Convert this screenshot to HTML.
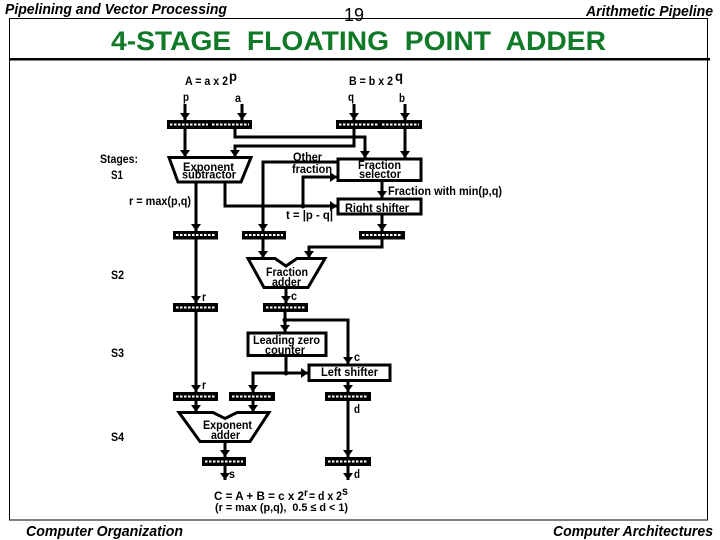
<!DOCTYPE html>
<html>
<head>
<meta charset="utf-8">
<style>
html,body{margin:0;padding:0;background:#fff;width:720px;height:540px;overflow:hidden}
svg{display:block}
text{font-family:"Liberation Sans",sans-serif;fill:#000;white-space:pre}
.l{font-size:12px;font-weight:bold}
.h{font-size:15px;font-weight:bold;font-style:italic}
.r{fill:#000}
.d{stroke:#fff;stroke-width:2;stroke-dasharray:2.5 1.5}
.w{fill:none;stroke:#000;stroke-width:3}
.b{fill:#fff;stroke:#000;stroke-width:3}
</style>
</head>
<body>
<svg width="720" height="540" viewBox="0 0 720 540" xmlns="http://www.w3.org/2000/svg">
<defs>
<marker id="a" markerUnits="userSpaceOnUse" markerWidth="9" markerHeight="10" refX="7" refY="5" orient="auto">
<polygon points="0,0 7,5 0,10" fill="#000"/>
</marker>
</defs>
<rect x="0" y="0" width="720" height="540" fill="#fff"/>

<!-- frame -->
<rect x="9.5" y="18.5" width="698" height="501.5" fill="none" stroke="#000" stroke-width="1"/>
<rect x="9" y="58" width="701" height="2.5" fill="#000"/>

<!-- header / footer -->
<text class="h" x="5" y="14" textLength="222" lengthAdjust="spacingAndGlyphs">Pipelining and Vector Processing</text>
<rect x="340" y="5" width="28" height="13" fill="#fff"/>
<text x="344" y="21" font-size="18" textLength="20" lengthAdjust="spacingAndGlyphs">19</text>
<text class="h" x="586" y="16" textLength="127" lengthAdjust="spacingAndGlyphs">Arithmetic Pipeline</text>
<text class="h" x="26" y="536" textLength="157" lengthAdjust="spacingAndGlyphs">Computer Organization</text>
<text class="h" x="553" y="536" textLength="160" lengthAdjust="spacingAndGlyphs">Computer Architectures</text>

<text x="111" y="50" font-size="26.5" font-weight="bold" style="fill:#107a28" textLength="495" lengthAdjust="spacingAndGlyphs">4-STAGE  FLOATING  POINT  ADDER</text>

<!-- wires -->
<g class="w">
<path d="M185 104V120" marker-end="url(#a)"/>
<path d="M242 104V120" marker-end="url(#a)"/>
<path d="M354 104V120" marker-end="url(#a)"/>
<path d="M405 104V120" marker-end="url(#a)"/>
<path d="M185 129V157" marker-end="url(#a)"/>
<path d="M235 129V137H365V158" marker-end="url(#a)"/>
<path d="M354 129V146H235V157" marker-end="url(#a)"/>
<path d="M405 129V158" marker-end="url(#a)"/>
<path d="M337 162H263V231" marker-end="url(#a)"/>
<path d="M196 182V231" marker-end="url(#a)"/>
<path d="M225 182V206H337" marker-end="url(#a)"/>
<path d="M303 206V177H337" marker-end="url(#a)"/>
<path d="M382 181V198" marker-end="url(#a)"/>
<path d="M382 214V231" marker-end="url(#a)"/>
<path d="M263 239V258" marker-end="url(#a)"/>
<path d="M382 239V247H309V258" marker-end="url(#a)"/>
<path d="M196 239V303" marker-end="url(#a)"/>
<path d="M286 288V303" marker-end="url(#a)"/>
<path d="M196 312V392" marker-end="url(#a)"/>
<path d="M285 312V332" marker-end="url(#a)"/>
<path d="M285 320H348V364" marker-end="url(#a)"/>
<path d="M286 356V373"/>
<path d="M286 373H308" marker-end="url(#a)"/>
<path d="M286 373H253V392" marker-end="url(#a)"/>
<path d="M348 381V392" marker-end="url(#a)"/>
<path d="M196 401V412" marker-end="url(#a)"/>
<path d="M253 401V412" marker-end="url(#a)"/>
<path d="M225 442V457" marker-end="url(#a)"/>
<path d="M225 466V480" marker-end="url(#a)"/>
<path d="M348 401V457" marker-end="url(#a)"/>
<path d="M348 466V480" marker-end="url(#a)"/>
</g>
<circle cx="303" cy="206" r="2.5"/>
<circle cx="285" cy="320" r="2.5"/>
<circle cx="286" cy="373" r="2.5"/>

<!-- functional blocks -->
<polygon class="b" points="169,157.5 251,157.5 241,182 178,182"/>
<rect class="b" x="338" y="159" width="83" height="21.5"/>
<rect class="b" x="338" y="199" width="83" height="15"/>
<polygon class="b" points="248,258.5 275,258.5 286,266 297,258.5 325,258.5 308,287.5 264,287.5"/>
<rect class="b" x="248" y="333" width="78" height="22.5"/>
<rect class="b" x="309" y="365" width="81" height="15.5"/>
<polygon class="b" points="179,412.5 213,412.5 225,418.5 237,412.5 269,412.5 250,441.5 200,441.5"/>

<!-- registers -->
<g class="r">
<rect x="167" y="120" width="85" height="9"/>
<rect x="336" y="120" width="86" height="9"/>
<rect x="173" y="231" width="45" height="8.5"/>
<rect x="242" y="231" width="44" height="8.5"/>
<rect x="359" y="231" width="46" height="8.5"/>
<rect x="173" y="303" width="45" height="9"/>
<rect x="263" y="303" width="45" height="9"/>
<rect x="173" y="392" width="45" height="9"/>
<rect x="229" y="392" width="46" height="9"/>
<rect x="325" y="392" width="46" height="9"/>
<rect x="202" y="457" width="44" height="9"/>
<rect x="325" y="457" width="46" height="9"/>
</g>
<g class="d">
<line x1="170" y1="124.5" x2="208" y2="124.5"/>
<line x1="212" y1="124.5" x2="249" y2="124.5"/>
<line x1="339" y1="124.5" x2="378" y2="124.5"/>
<line x1="382" y1="124.5" x2="419" y2="124.5"/>
<line x1="176" y1="235" x2="215" y2="235"/>
<line x1="245" y1="235" x2="283" y2="235"/>
<line x1="362" y1="235" x2="402" y2="235"/>
<line x1="176" y1="307.5" x2="215" y2="307.5"/>
<line x1="266" y1="307.5" x2="305" y2="307.5"/>
<line x1="176" y1="396.5" x2="215" y2="396.5"/>
<line x1="232" y1="396.5" x2="272" y2="396.5"/>
<line x1="328" y1="396.5" x2="368" y2="396.5"/>
<line x1="205" y1="461.5" x2="243" y2="461.5"/>
<line x1="328" y1="461.5" x2="368" y2="461.5"/>
</g>

<!-- labels -->
<g class="l">
<text x="185" y="85" textLength="43" lengthAdjust="spacingAndGlyphs">A = a x 2</text>
<text x="229" y="81" font-size="14" textLength="8" lengthAdjust="spacingAndGlyphs">p</text>
<text x="349" y="85" textLength="44" lengthAdjust="spacingAndGlyphs">B = b x 2</text>
<text x="395" y="81" font-size="14" textLength="8" lengthAdjust="spacingAndGlyphs">q</text>
<text x="183" y="101" textLength="6" lengthAdjust="spacingAndGlyphs">p</text>
<text x="235" y="102" textLength="6" lengthAdjust="spacingAndGlyphs">a</text>
<text x="348" y="101" textLength="6" lengthAdjust="spacingAndGlyphs">q</text>
<text x="399" y="102" textLength="6" lengthAdjust="spacingAndGlyphs">b</text>
<text x="100" y="163" textLength="38" lengthAdjust="spacingAndGlyphs">Stages:</text>
<text x="111" y="179" textLength="12" lengthAdjust="spacingAndGlyphs">S1</text>
<text x="111" y="279" textLength="13" lengthAdjust="spacingAndGlyphs">S2</text>
<text x="111" y="357" textLength="13" lengthAdjust="spacingAndGlyphs">S3</text>
<text x="111" y="441" textLength="13" lengthAdjust="spacingAndGlyphs">S4</text>
<text x="183" y="171" textLength="51" lengthAdjust="spacingAndGlyphs">Exponent</text>
<text x="182" y="178.5" textLength="54" lengthAdjust="spacingAndGlyphs">subtractor</text>
<text x="129" y="205" textLength="62" lengthAdjust="spacingAndGlyphs">r = max(p,q)</text>
<text x="293" y="161" textLength="29" lengthAdjust="spacingAndGlyphs">Other</text>
<text x="292" y="173" textLength="40" lengthAdjust="spacingAndGlyphs">fraction</text>
<text x="358" y="169" textLength="43" lengthAdjust="spacingAndGlyphs">Fraction</text>
<text x="359" y="178" textLength="42" lengthAdjust="spacingAndGlyphs">selector</text>
<text x="388" y="195" textLength="114" lengthAdjust="spacingAndGlyphs">Fraction with min(p,q)</text>
<text x="345" y="212" textLength="64" lengthAdjust="spacingAndGlyphs">Right shifter</text>
<text x="286" y="219" textLength="47" lengthAdjust="spacingAndGlyphs">t = |p - q|</text>
<text x="266" y="276" textLength="42" lengthAdjust="spacingAndGlyphs">Fraction</text>
<text x="272" y="286" textLength="29" lengthAdjust="spacingAndGlyphs">adder</text>
<text x="202" y="301" textLength="4" lengthAdjust="spacingAndGlyphs">r</text>
<text x="291" y="300" textLength="6" lengthAdjust="spacingAndGlyphs">c</text>
<text x="253" y="344" textLength="67" lengthAdjust="spacingAndGlyphs">Leading zero</text>
<text x="265" y="354" textLength="40" lengthAdjust="spacingAndGlyphs">counter</text>
<text x="354" y="361" textLength="6" lengthAdjust="spacingAndGlyphs">c</text>
<text x="321" y="376" textLength="57" lengthAdjust="spacingAndGlyphs">Left shifter</text>
<text x="202" y="389" textLength="4" lengthAdjust="spacingAndGlyphs">r</text>
<text x="354" y="413" textLength="6" lengthAdjust="spacingAndGlyphs">d</text>
<text x="203" y="429" textLength="49" lengthAdjust="spacingAndGlyphs">Exponent</text>
<text x="211" y="439" textLength="29" lengthAdjust="spacingAndGlyphs">adder</text>
<text x="229" y="478" textLength="6" lengthAdjust="spacingAndGlyphs">s</text>
<text x="354" y="478" textLength="6" lengthAdjust="spacingAndGlyphs">d</text>
<text x="214" y="500" textLength="90" lengthAdjust="spacingAndGlyphs">C = A + B = c x 2</text>
<text x="304" y="496" font-size="10" textLength="4" lengthAdjust="spacingAndGlyphs">r</text>
<text x="309" y="500" textLength="33" lengthAdjust="spacingAndGlyphs">= d x 2</text>
<text x="342" y="495" font-size="12" textLength="6" lengthAdjust="spacingAndGlyphs">s</text>
<text x="215" y="511" font-size="11" textLength="133" lengthAdjust="spacingAndGlyphs">(r = max (p,q),  0.5 ≤ d &lt; 1)</text>
</g>
</svg>
</body>
</html>
